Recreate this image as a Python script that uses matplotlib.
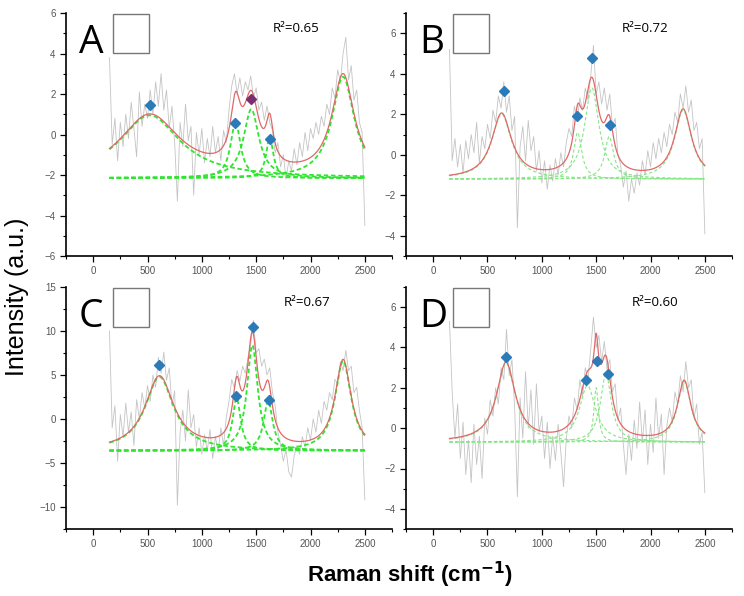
import numpy as np
import matplotlib
matplotlib.use("Agg")
import matplotlib.pyplot as plt
from matplotlib.ticker import MultipleLocator
from matplotlib.patches import Rectangle

# ---------------- data ----------------
panel_labels = ["A", "B", "C", "D"]
r2_values = ["0.65", "0.72", "0.67", "0.60"]

x_start, x_end = 150, 2500

spec_A = [3.8, -0.5, 0.8, -1.3, 0.6, -0.6, 1.0, -0.2, 1.6, 0.3, -1.1, 2.1, 0.4, 1.5, 0.8, 2.2,
          1.0, 2.6, 1.4, 3.0, 1.2, 2.2, 0.3, 1.4, -0.4, -3.3, 0.6, -0.6, 1.5, -0.3, 0.4, -3.0,
          0.1, -1.0, 0.3, -1.4, -0.2, -1.1, 0.4, -0.9, -0.1, -1.3, 0.2, -0.4, 1.2, 2.4, 3.0, 2.0,
          2.8, 1.9, 2.6, 2.2, 2.9, 1.8, 2.3, 1.2, 1.6, 0.7, 1.4, 0.6, 0.2, -0.9, -0.4, -1.6, -1.0,
          -2.2, -1.3, -1.8, -0.7, -1.5, -0.4, -1.1, 0.1, -0.8, 0.3, -0.2, 0.6, 0.0, 0.9, 0.4, 1.5,
          1.0, 2.3, 1.8, 3.2, 2.6, 4.0, 4.8, 2.7, 3.4, 1.7, 2.2, 0.6, 0.1, -4.5]
spec_B = [5.2, -0.3, 0.8, -0.6, 0.5, -0.9, 0.7, -0.2, 1.0, 0.1, 1.6, -0.4, 0.9, 0.3, 1.5, 0.8,
          2.2, 1.6, 2.9, 2.3, 3.6, 2.1, 2.9, 1.2, 1.9, -3.6, 0.4, 1.4, -0.3, 1.7, 0.2, 0.9, -0.8,
          0.2, -1.4, -0.3, -1.7, -0.5, -1.3, -0.2, -1.0, 0.1, -0.6, 0.6, 1.3, 0.9, 2.4, 1.7, 2.8,
          2.2, 3.3, 2.7, 3.9, 5.4, 3.0, 3.6, 2.5, 3.3, 2.2, 3.0, 1.4, 1.8, 0.0, -0.5, -1.6, -0.8,
          -2.3, -1.2, -1.9, -0.9, -1.5, -0.3, -1.0, 0.2, -0.6, 0.6, -0.2, 0.8, 0.1, 1.1, 0.4, 1.5,
          1.0, 2.1, 1.6, 3.0, 2.3, 3.4, 2.1, 2.7, 1.2, 1.6, 0.3, 0.8, -3.9]
spec_C = [10.0, -1.0, 1.5, -4.8, 0.5, -2.0, 1.8, -1.5, 0.8, -3.0, 2.2, 0.0, 3.0, 1.2, 3.8, 2.0,
          5.0, 3.6, 7.0, 5.2, 7.6, 4.4, 5.8, 1.5, 3.2, -9.8, -1.5, 1.0, -2.5, 3.3, -1.0, 0.5, -3.2,
          -1.0, -4.0, -1.8, -3.6, -1.2, -4.5, -2.0, -3.8, -1.0, -3.0, 0.2, 2.0, 4.5, 3.5, 5.5, 4.3,
          6.0, 5.2, 7.0, 8.5, 11.2, 7.5, 8.0, 6.0, 6.8, 5.0, 5.8, 3.0, 1.5, -1.5, -3.0, -4.8, -3.5,
          -6.0, -6.6, -4.2, -3.0, -4.0, -2.0, -3.2, -1.0, -2.4, 0.0, -1.5, 1.0, -0.5, 2.0, 1.0, 3.0,
          2.2, 4.5, 4.0, 6.5, 5.5, 7.8, 5.5, 6.0, 3.0, 3.6, 1.0, -1.0, -9.2]
spec_D = [5.3, 1.8, -0.5, 1.2, -1.5, 0.3, -2.3, -0.6, -2.7, 0.2, -1.8, -0.4, -2.5, 0.5, -0.3, 1.4,
          0.6, 2.0, 1.2, 3.0, 2.4, 4.9, 2.6, 3.4, 1.0, -3.4, 1.5, -0.5, 2.8, 0.0, 1.9, -0.8, 2.2,
          -0.2, 0.6, -1.5, 0.3, -2.0, -0.4, -1.6, 0.2, -1.2, -2.9, -0.5, 0.6, 0.0, 1.5, 0.9, 2.4,
          1.6, 3.0, 2.4, 3.9, 5.5, 4.0, 4.6, 3.3, 4.3, 2.9, 3.4, 1.8, 2.2, 0.4, 1.0, -0.8, -2.3,
          -0.3, -1.6, 0.4, -1.0, 1.3, -0.7, 0.9, -1.8, 0.2, -1.2, 1.5, -0.5, 0.7, -2.3, 0.1, 1.0,
          0.3, 1.8, 1.2, 2.6, 1.8, 3.3, 2.0, 2.4, 0.5, 1.2, -0.8, -0.2, -3.2]

# Lorentzian fit components: baseline, centers, heights, half-widths
base_A, cen_A, amp_A, wid_A = -2.15, [520, 1310, 1455, 1625, 2300], [3.1, 2.8, 3.4, 2.0, 5.0], [340, 55, 85, 40, 125]
base_B, cen_B, amp_B, wid_B = -1.2, [630, 1330, 1460, 1620, 2300], [3.2, 2.3, 4.5, 2.1, 3.4], [110, 45, 80, 50, 95]
base_C, cen_C, amp_C, wid_C = -3.6, [610, 1320, 1465, 1610, 2300], [8.4, 6.0, 12.0, 5.7, 10.2], [160, 45, 60, 50, 90]
base_D, cen_D, amp_D, wid_D = -0.69, [670, 1420, 1500, 1590, 2310], [3.9, 2.8, 2.7, 3.4, 3.0], [105, 90, 25, 60, 75]

# marked peak positions (diamonds)
dia_A_x, dia_A_y = [520, 1305, 1455, 1625], [1.46, 0.55, 1.75, -0.24]
dia_B_x, dia_B_y = [650, 1320, 1460, 1630], [3.15, 1.9, 4.8, 1.48]
dia_C_x, dia_C_y = [605, 1315, 1468, 1615], [6.1, 2.6, 10.45, 2.2]
dia_D_x, dia_D_y = [670, 1405, 1505, 1610], [3.52, 2.4, 3.33, 2.67]
dia_colors_A = ["#2b7bb9", "#2b7bb9", "#7b2d6e", "#2b7bb9"]

ylims = [(-6, 6), (-5, 7), (-12.5, 15), (-5, 7)]
ymajor = [2, 2, 5, 2]
yminor = [1, 1, 2.5, 1]

# ---------------- figure ----------------
W, H = 744, 596
fig = plt.figure(figsize=(W / 100, H / 100), dpi=100)
plt.rcParams['font.family'] = ['Liberation Sans', 'DejaVu Sans']

# axes rectangles in pixels: left, top, right, bottom
rects = [(66, 13, 392, 256), (406, 13, 732, 256), (66, 287, 392, 529), (406, 287, 732, 529)]

specs = [spec_A, spec_B, spec_C, spec_D]
fits = [(base_A, cen_A, amp_A, wid_A), (base_B, cen_B, amp_B, wid_B),
        (base_C, cen_C, amp_C, wid_C), (base_D, cen_D, amp_D, wid_D)]
dias = [(dia_A_x, dia_A_y), (dia_B_x, dia_B_y), (dia_C_x, dia_C_y), (dia_D_x, dia_D_y)]
green_styles = [dict(color="#2ee62e", lw=1.3, dashes=(2.5, 1.5)),
                dict(color="#86e686", lw=0.8, dashes=(3, 2)),
                dict(color="#2ee62e", lw=1.3, dashes=(2.5, 1.5)),
                dict(color="#86e686", lw=0.8, dashes=(3, 2))]

def lor(x, c, a, w):
    return a / (1.0 + ((x - c) / w) ** 2)

xf = np.linspace(x_start, x_end, 600)

for i, (l, t, r, b) in enumerate(rects):
    ax = fig.add_axes([l / W, 1 - b / H, (r - l) / W, (b - t) / H])
    spec = specs[i]
    xs = np.linspace(x_start, x_end, len(spec))
    ax.plot(xs, spec, color="#c4c4c4", lw=0.6, zorder=1)
    base, cen, amp, wid = fits[i]
    total = np.full_like(xf, base)
    for c, a, w in zip(cen, amp, wid):
        comp = lor(xf, c, a, w)
        total += comp
        ax.plot(xf, base + comp, zorder=2, **green_styles[i])
    ax.plot(xf, total, color="#e06868", lw=0.9, zorder=3)
    dx, dy = dias[i]
    cols = dia_colors_A if i == 0 else ["#2b7bb9"] * len(dx)
    for xx, yy, cc in zip(dx, dy, cols):
        ax.plot([xx], [yy], marker="D", ms=5.5, color=cc, mec=cc, zorder=4)

    ax.set_xlim(-250, 2750)
    ax.set_ylim(*ylims[i])
    ax.xaxis.set_major_locator(MultipleLocator(500))
    ax.xaxis.set_minor_locator(MultipleLocator(250))
    ax.yaxis.set_major_locator(MultipleLocator(ymajor[i]))
    ax.yaxis.set_minor_locator(MultipleLocator(yminor[i]))
    for s in ["top", "right"]:
        ax.spines[s].set_visible(False)
    for s in ["left", "bottom"]:
        ax.spines[s].set_linewidth(1.2)
    ax.tick_params(which="major", direction="out", length=4, width=0.9,
                   labelsize=7, labelcolor="#555555")
    ax.tick_params(which="minor", direction="out", length=2.5, width=0.8)
    ax.patch.set_alpha(0)

    # panel letter, empty box and R^2
    fig.text((l + 13) / W, 1 - (t + 30) / H, panel_labels[i], fontsize=28,
             family=["Open Sans", "DejaVu Sans"], va="center", ha="left")
    fig.patches.append(Rectangle(((l + 47) / W, 1 - (t + 40) / H), 36 / W, 39 / H,
                                 transform=fig.transFigure, fill=False,
                                 edgecolor="#777777", lw=1.0))
    rx = [273, 622, 284, 632][i]
    fig.text(rx / W, 1 - (t + 15) / H, "R\u00b2=" + r2_values[i], fontsize=9.5,
             family=["Open Sans", "DejaVu Sans"], va="center", ha="left")

fig.text(17 / W, 1 - 297 / H, "Intensity (a.u.)", rotation=90, fontsize=18,
         va="center", ha="center")
fig.text(410 / W, 1 - 575 / H, "Raman shift (cm$^{\\mathbf{-1}}$)", fontsize=16,
         fontweight="bold", va="center", ha="center")

fig.savefig("out.png", dpi=100)
